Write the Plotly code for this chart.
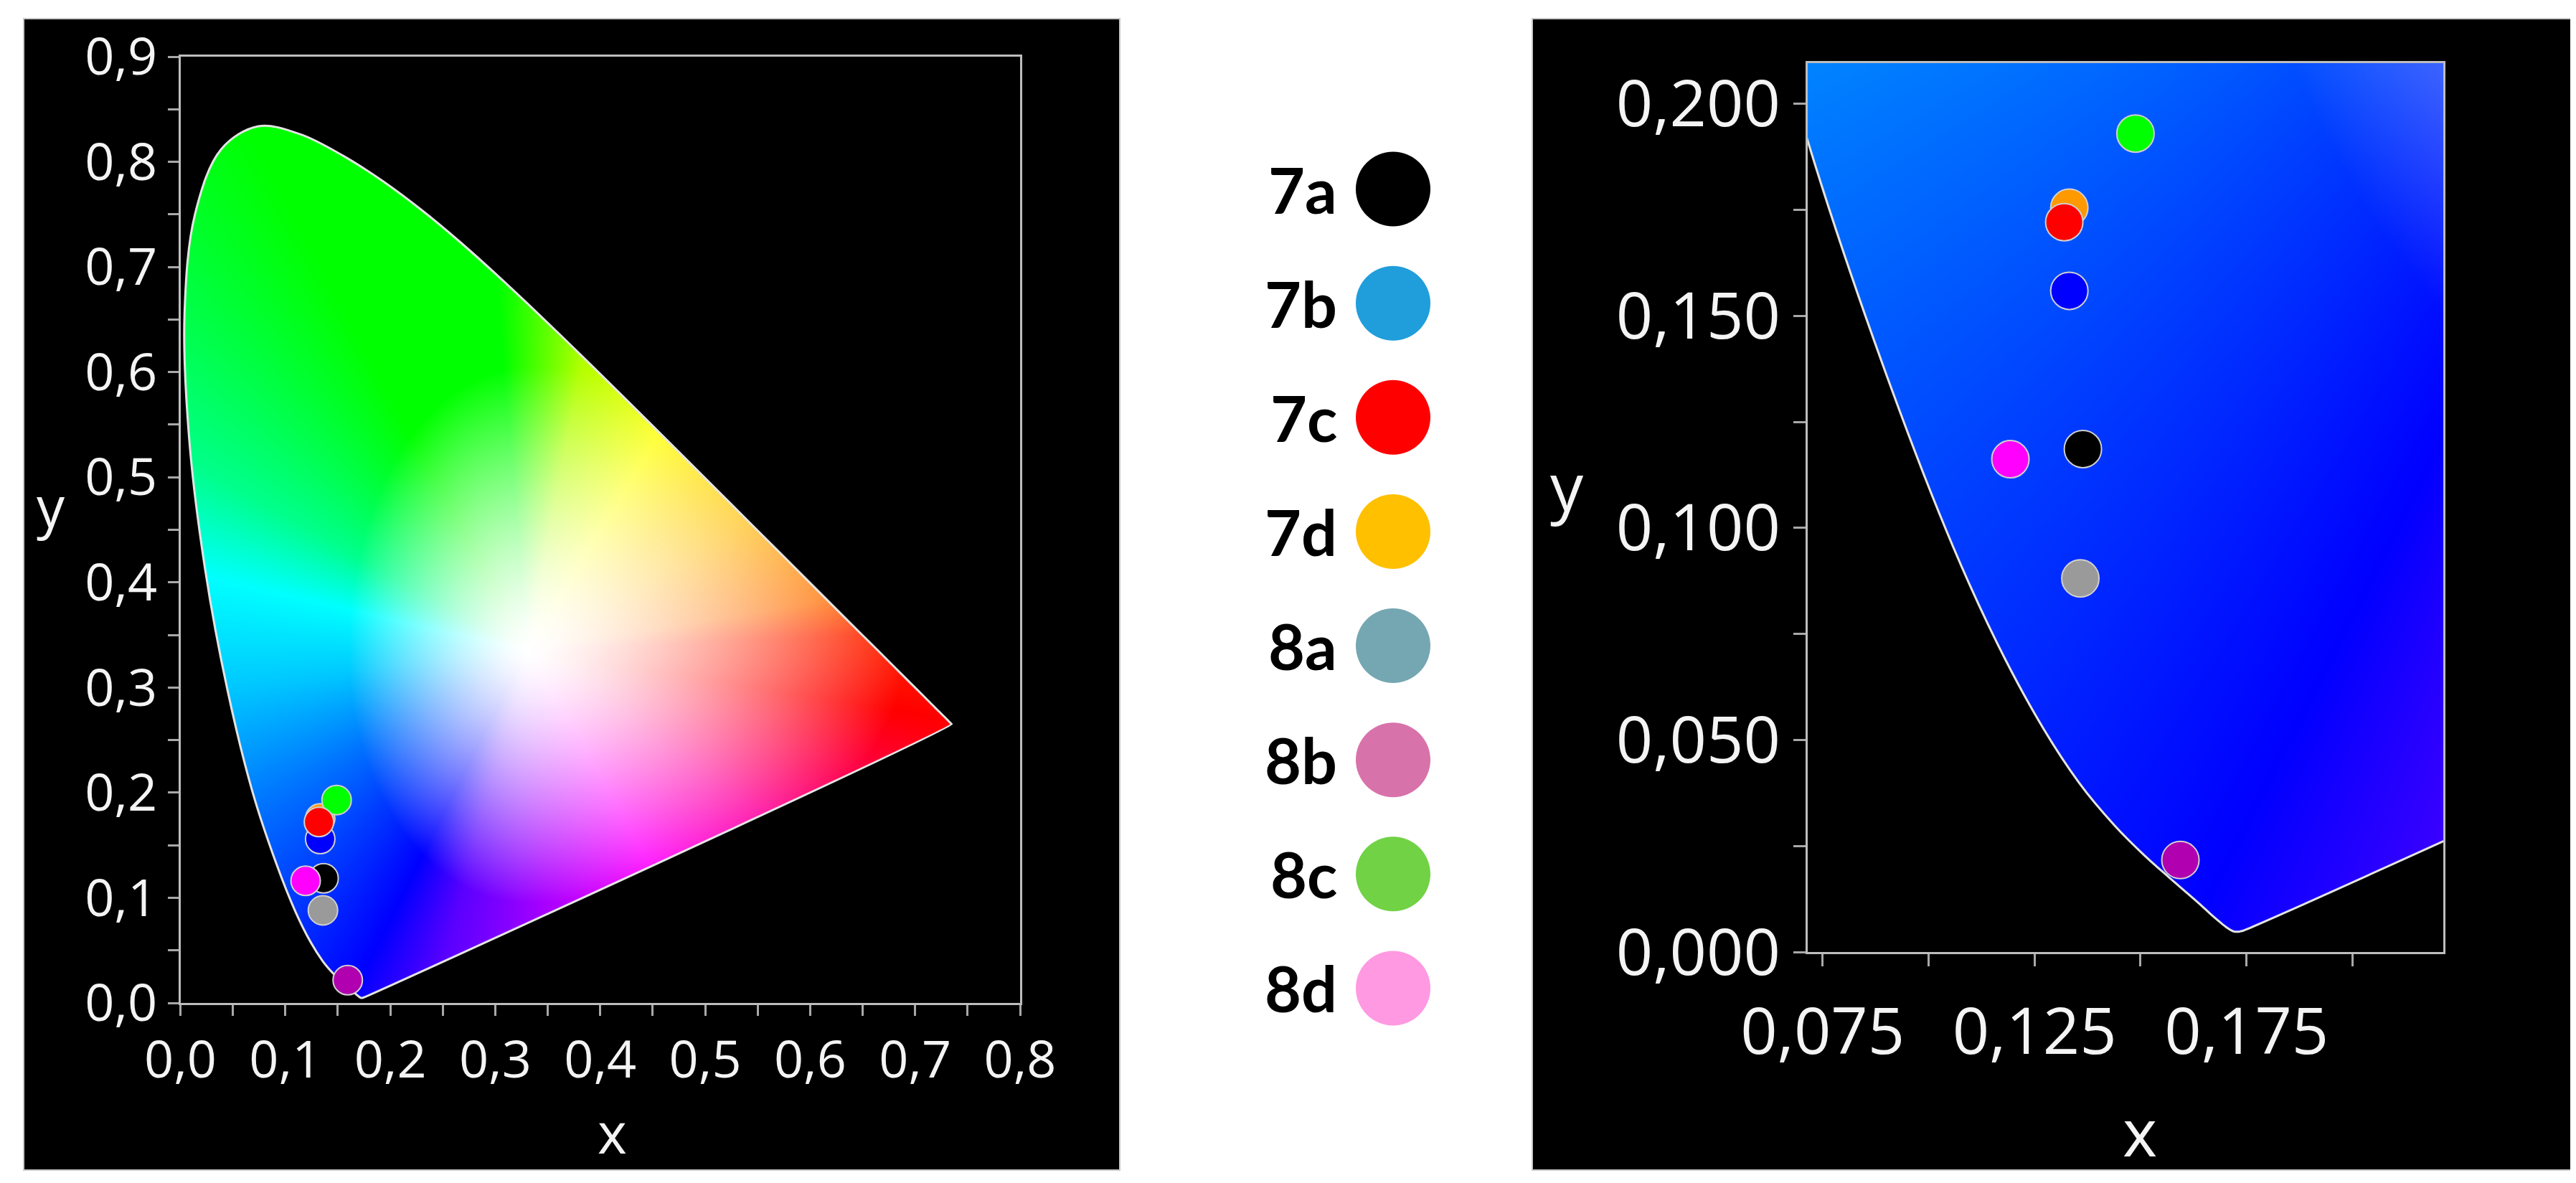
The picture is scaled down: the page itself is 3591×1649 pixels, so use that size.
import base64
import struct
import zlib

import numpy as np
import plotly.graph_objects as go

W, H = 3591, 1649

# CIE 1931 2-degree spectral locus (380-700 nm)
LOCUS_X = [0.1741, 0.1740, 0.1738, 0.1736, 0.1733, 0.1730, 0.1726, 0.1721, 0.1714, 0.1703,
           0.1689, 0.1669, 0.1644, 0.1611, 0.1566, 0.1510, 0.1440, 0.1355, 0.1241, 0.1096,
           0.0913, 0.0687, 0.0454, 0.0235, 0.0082, 0.0039, 0.0139, 0.0389, 0.0743, 0.1142,
           0.1547, 0.1929, 0.2296, 0.2658, 0.3016, 0.3373, 0.3731, 0.4087, 0.4441, 0.4788,
           0.5125, 0.5448, 0.5752, 0.6029, 0.6270, 0.6482, 0.6658, 0.6801, 0.6915, 0.7006,
           0.7079, 0.7140, 0.7190, 0.7230, 0.7260, 0.7283, 0.7300, 0.7311, 0.7320, 0.7327,
           0.7334, 0.7344, 0.7347]
LOCUS_Y = [0.0050, 0.0050, 0.0049, 0.0049, 0.0048, 0.0048, 0.0048, 0.0048, 0.0051, 0.0058,
           0.0069, 0.0086, 0.0109, 0.0138, 0.0177, 0.0227, 0.0297, 0.0399, 0.0578, 0.0868,
           0.1327, 0.2007, 0.2950, 0.4127, 0.5384, 0.6548, 0.7502, 0.8120, 0.8338, 0.8262,
           0.8059, 0.7816, 0.7543, 0.7243, 0.6923, 0.6589, 0.6245, 0.5896, 0.5547, 0.5202,
           0.4866, 0.4544, 0.4242, 0.3965, 0.3725, 0.3514, 0.3340, 0.3197, 0.3083, 0.2993,
           0.2920, 0.2859, 0.2809, 0.2770, 0.2740, 0.2717, 0.2700, 0.2689, 0.2680, 0.2673,
           0.2666, 0.2656, 0.2653]

# Samples
SAMPLES = ["7a", "7b", "7c", "7d", "8a", "8b", "8c", "8d"]
SAMPLE_X = [0.1364, 0.1332, 0.1320, 0.1332, 0.1358, 0.1594, 0.1488, 0.1193]
SAMPLE_Y = [0.1186, 0.1559, 0.1721, 0.1755, 0.0881, 0.0217, 0.1930, 0.1162]
POINT_COLORS = ["#000000", "#0000ff", "#ff0000", "#ff9900", "#9a9a9a", "#b000b0", "#00ff00", "#ff00ff"]
LEGEND_COLORS = ["#000000", "#1f9edb", "#ff0000", "#ffc000", "#75a7b2", "#d872aa", "#70d244", "#ff99e1"]
DRAW_ORDER = [3, 6, 1, 2, 0, 7, 4, 5]

# Ticks
X1_TICKS = [0.0, 0.05, 0.1, 0.15, 0.2, 0.25, 0.3, 0.35, 0.4, 0.45, 0.5, 0.55, 0.6, 0.65, 0.7, 0.75, 0.8]
X1_LABELS = ["0,0", "", "0,1", "", "0,2", "", "0,3", "", "0,4", "", "0,5", "", "0,6", "", "0,7", "", "0,8"]
Y1_TICKS = [0.0, 0.05, 0.1, 0.15, 0.2, 0.25, 0.3, 0.35, 0.4, 0.45, 0.5, 0.55, 0.6, 0.65, 0.7, 0.75, 0.8, 0.85, 0.9]
Y1_LABELS = ["0,0", "", "0,1", "", "0,2", "", "0,3", "", "0,4", "", "0,5", "", "0,6", "", "0,7", "", "0,8", "", "0,9"]
X2_TICKS = [0.075, 0.1, 0.125, 0.15, 0.175, 0.2]
X2_LABELS = ["0,075", "", "0,125", "", "0,175", ""]
Y2_TICKS = [0.0, 0.025, 0.05, 0.075, 0.1, 0.125, 0.15, 0.175, 0.2]
Y2_LABELS = ["0,000", "", "0,050", "", "0,100", "", "0,150", "", "0,200"]

X1_RANGE = [0.0, 0.8]
Y1_RANGE = [0.0, 0.9]
X2_RANGE = [0.0715, 0.2214]
Y2_RANGE = [0.0, 0.2096]

# Hue anchors (angle around white point, degrees) for the background colour field
HUE_ANGLE = [2.7, 9.5, 30, 58.4, 79, 94.7, 118, 134.5, 151, 167, 187, 210.4, 232.5, 243, 255, 274.6, 300, 324.8, 340, 350.8]
HUE_R = [255, 255, 255, 255, 180, 0, 0, 0, 0, 0, 0, 0, 0, 0, 90, 170, 255, 255, 255, 255]
HUE_G = [40, 110, 185, 255, 255, 255, 255, 255, 255, 255, 200, 115, 40, 0, 0, 0, 0, 0, 0, 0]
HUE_B = [0, 0, 0, 0, 0, 0, 0, 70, 140, 255, 255, 255, 255, 255, 255, 255, 255, 160, 70, 0]


def chroma_rgb(xg, yg):
    dx = xg - 0.33
    dy = yg - 0.335
    ang = np.degrees(np.arctan2(dy, dx)) % 360
    a = np.array(HUE_ANGLE, float)
    aa = np.concatenate([[a[-1] - 360], a, [a[0] + 360]])
    cols = np.array([HUE_R, HUE_G, HUE_B], float).T
    cc = np.vstack([cols[-1], cols, cols[0]])
    rgb = np.stack([np.interp(ang, aa, cc[:, k]) for k in range(3)], -1) / 255.0
    rx = np.where(dx < 0, 0.17, 0.36)
    ry = np.where(dy > 0, 0.27, 0.24)
    r = np.sqrt((dx / rx) ** 2 + (dy / ry) ** 2)
    s = np.clip(r, 0, 1) ** 1.4
    out = 1 - s[..., None] * (1 - rgb)
    return (np.clip(out, 0, 1) * 255 + 0.5).astype(np.uint8)


def png_uri(img):
    h, w, _ = img.shape
    rows = img.reshape(h, w * 3).astype(np.int16)
    up = rows.copy()
    up[1:] -= rows[:-1]
    up = (up % 256).astype(np.uint8)
    raw = np.hstack([np.full((h, 1), 2, np.uint8), up]).tobytes()

    def chunk(t, d):
        return struct.pack(">I", len(d)) + t + d + struct.pack(">I", zlib.crc32(t + d) & 0xFFFFFFFF)

    png = (b"\x89PNG\r\n\x1a\n" + chunk(b"IHDR", struct.pack(">IIBBBBB", w, h, 8, 2, 0, 0, 0))
           + chunk(b"IDAT", zlib.compress(raw, 9)) + chunk(b"IEND", b""))
    return "data:image/png;base64," + base64.b64encode(png).decode()


def field_image(xr, yr, nx, ny):
    xs = xr[0] + (np.arange(nx) + 0.5) * (xr[1] - xr[0]) / nx
    ys = yr[1] - (np.arange(ny) + 0.5) * (yr[1] - yr[0]) / ny
    xg, yg = np.meshgrid(xs, ys)
    return png_uri(chroma_rgb(xg, yg))


def px(v):
    return v / W


def py(v):
    return 1 - v / H


fig = go.Figure()


def add_panel(xa, ya, msize):
    # black mask: big counter-clockwise rectangle with the (clockwise) locus as a hole
    x0, x1, y0, y1 = -5.0, 5.0, -5.0, 5.0
    mx = [x0, x1, x1, x0, x0, None] + LOCUS_X + [LOCUS_X[0]]
    my = [y0, y0, y1, y1, y0, None] + LOCUS_Y + [LOCUS_Y[0]]
    fig.add_trace(go.Scatter(x=mx, y=my, mode="lines", fill="toself", fillcolor="#000000",
                             line=dict(width=0, color="#000000", shape="spline", simplify=False),
                             connectgaps=False, hoverinfo="skip", showlegend=False, xaxis=xa, yaxis=ya))
    fig.add_trace(go.Scatter(x=LOCUS_X + [LOCUS_X[0]], y=LOCUS_Y + [LOCUS_Y[0]], mode="lines",
                             line=dict(width=3, color="#e4e4e4", shape="spline", simplify=False),
                             hoverinfo="skip", showlegend=False, xaxis=xa, yaxis=ya))
    fig.add_trace(go.Scatter(
        x=[SAMPLE_X[i] for i in DRAW_ORDER], y=[SAMPLE_Y[i] for i in DRAW_ORDER], mode="markers",
        marker=dict(size=msize, color=[POINT_COLORS[i] for i in DRAW_ORDER],
                    line=dict(width=2, color="#d0d0d0")),
        text=[SAMPLES[i] for i in DRAW_ORDER], hoverinfo="text", showlegend=False, xaxis=xa, yaxis=ya))


add_panel("x", "y", 41)
add_panel("x2", "y2", 52)

# Legend column
fig.add_trace(go.Scatter(x=[0.585] * len(SAMPLES), y=list(range(len(SAMPLES))), mode="markers",
                         marker=dict(size=104, color=LEGEND_COLORS, line=dict(width=0)),
                         text=SAMPLES, hoverinfo="text", showlegend=False, xaxis="x3", yaxis="y3"))

axis_common = dict(showgrid=False, zeroline=False, showline=True, mirror=True, linecolor="#bdbdbd",
                   linewidth=3, ticks="outside", tickwidth=3, tickcolor="#a8a8a8", automargin=False)

fig.update_layout(
    width=W, height=H, autosize=False, margin=dict(l=0, r=0, t=0, b=0, autoexpand=False),
    paper_bgcolor="#ffffff", plot_bgcolor="#ffffff",
    xaxis=dict(domain=[px(243.5), px(1414)], range=X1_RANGE, tickvals=X1_TICKS, ticktext=X1_LABELS,
               ticklen=15, tickfont=dict(family="Open Sans", size=72, color="#f4f4f4"), **axis_common),
    yaxis=dict(domain=[py(1390), py(71)], range=Y1_RANGE, tickvals=Y1_TICKS, ticktext=Y1_LABELS,
               ticklen=15, tickfont=dict(family="Open Sans", size=72, color="#f4f4f4"),
               scaleanchor=False, **axis_common),
    xaxis2=dict(domain=[px(2512), px(3398)], range=X2_RANGE, tickvals=X2_TICKS, ticktext=X2_LABELS,
                ticklen=17, ticklabelstandoff=14, tickfont=dict(family="Open Sans", size=90, color="#f4f4f4"),
                anchor="y2", **axis_common),
    yaxis2=dict(domain=[py(1319), py(80)], range=Y2_RANGE, tickvals=Y2_TICKS, ticktext=Y2_LABELS,
                ticklen=17, tickfont=dict(family="Open Sans", size=90, color="#f4f4f4"),
                anchor="x2", scaleanchor=False, **axis_common),
    xaxis3=dict(domain=[px(1700), px(2100)], range=[0, 1], visible=False, anchor="y3", automargin=False),
    yaxis3=dict(domain=[py(1449), py(176)], range=[7.5, -0.5], visible=False, anchor="x3", automargin=False),
    shapes=[
        dict(type="rect", xref="paper", yref="paper", x0=px(25), x1=px(1553), y0=py(1623), y1=py(18),
             fillcolor="#000000", line=dict(color="#c8c8c8", width=2), layer="below"),
        dict(type="rect", xref="paper", yref="paper", x0=px(2128), x1=px(3584), y0=py(1623), y1=py(18),
             fillcolor="#000000", line=dict(color="#c8c8c8", width=2), layer="below"),
    ],
    images=[
        dict(source=field_image(X1_RANGE, Y1_RANGE, 800, 900), xref="x", yref="y",
             x=X1_RANGE[0], y=Y1_RANGE[1], sizex=X1_RANGE[1] - X1_RANGE[0], sizey=Y1_RANGE[1] - Y1_RANGE[0],
             sizing="stretch", xanchor="left", yanchor="top", layer="below"),
        dict(source=field_image(X2_RANGE, Y2_RANGE, 600, 840), xref="x2", yref="y2",
             x=X2_RANGE[0], y=Y2_RANGE[1], sizex=X2_RANGE[1] - X2_RANGE[0], sizey=Y2_RANGE[1] - Y2_RANGE[0],
             sizing="stretch", xanchor="left", yanchor="top", layer="below"),
    ],
)

annotations = []
for i, name in enumerate(SAMPLES):
    annotations.append(dict(x=0.395, y=i, xref="x3", yref="y3", text=name, showarrow=False,
                            xanchor="right", yanchor="middle",
                            font=dict(family="Lato", size=88, color="#000000", weight=700)))
title_font_l = dict(family="Open Sans", size=78, color="#f4f4f4")
title_font_r = dict(family="Open Sans", size=92, color="#f4f4f4")
annotations += [
    dict(x=px(845), y=py(1570), xref="paper", yref="paper", text="x", showarrow=False,
         xanchor="center", yanchor="middle", font=title_font_l),
    dict(x=px(63), y=py(697), xref="paper", yref="paper", text="y", showarrow=False,
         xanchor="center", yanchor="middle", font=title_font_l),
    dict(x=px(2975), y=py(1568), xref="paper", yref="paper", text="x", showarrow=False,
         xanchor="center", yanchor="middle", font=title_font_r),
    dict(x=px(2176), y=py(668), xref="paper", yref="paper", text="y", showarrow=False,
         xanchor="center", yanchor="middle", font=title_font_r),
]
fig.update_layout(annotations=annotations)

fig.write_html("out.html")
